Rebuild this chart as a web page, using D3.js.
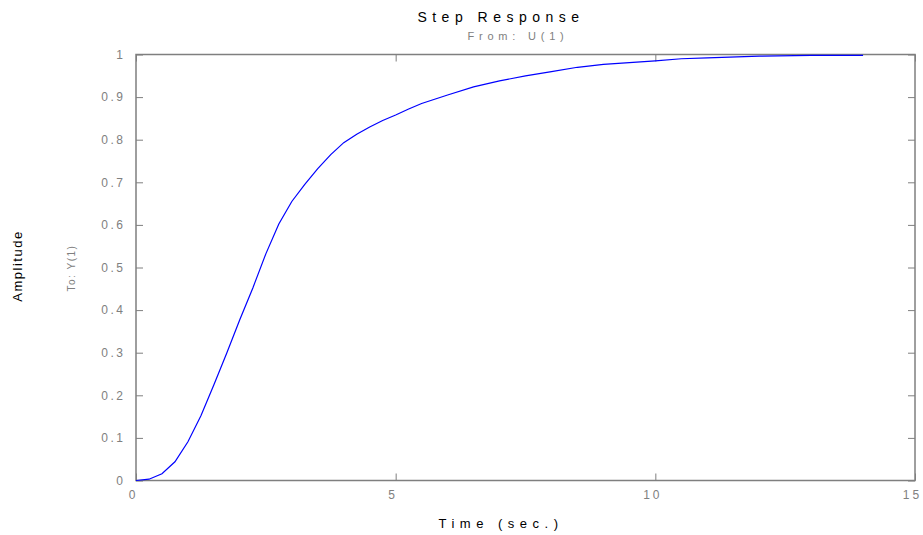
<!DOCTYPE html>
<html>
  <head>
    <title>Step Response</title>
    <style>
      body { margin: 0; background: #fff; }
      svg text { font-family: "Liberation Sans", Arial, sans-serif; }
    </style>
  </head>
  <body>
    <div id="chart"></div>

    <script src="https://d3js.org/d3.v7.min.js"></script>
    <script>
      // step response samples
      const time = [0, 0.25, 0.5, 0.75, 1.0, 1.25, 1.5, 1.75, 2.0, 2.25, 2.5, 2.75, 3.0, 3.25, 3.5, 3.75,
        4.0, 4.25, 4.5, 4.75, 5.0, 5.25, 5.5, 5.75, 6.0, 6.5, 7.0, 7.5, 8.0, 8.5, 9.0, 9.5, 10.0, 10.5,
        11.0, 12.0, 13.0, 14.0]
      const amplitude = [0, 0.003, 0.016, 0.044, 0.091, 0.152, 0.225, 0.300, 0.378, 0.452, 0.532, 0.602,
        0.655, 0.695, 0.732, 0.765, 0.793, 0.813, 0.830, 0.845, 0.858, 0.872, 0.885, 0.895, 0.905,
        0.924, 0.938, 0.950, 0.960, 0.970, 0.977, 0.981, 0.985, 0.990, 0.992, 0.996, 0.998, 0.998]
      const xTicks = [0, 5, 10, 15]
      const yTicks = [0, 0.1, 0.2, 0.3, 0.4, 0.5, 0.6, 0.7, 0.8, 0.9, 1]
      const yTickLabels = ["0", "0.1", "0.2", "0.3", "0.4", "0.5", "0.6", "0.7", "0.8", "0.9", "1"]

      const W = 923, H = 535
      const margin = { top: 54.5, right: 8, bottom: 54.5, left: 136 },
        width = W - margin.left - margin.right,
        height = H - margin.top - margin.bottom

      const svg = d3.select("#chart")
        .append("svg")
        .attr("width", W)
        .attr("height", H)

      const g = svg.append("g")
        .attr("transform", "translate(" + margin.left + "," + margin.top + ")")

      const x = d3.scaleLinear().domain([0, 15]).range([0, width])
      const y = d3.scaleLinear().domain([0, 1]).range([height, 0])

      const axisColor = "#7f7f7f"
      const labelColor = "#808080"
      const tickLen = 7

      // box
      g.append("rect")
        .attr("width", width)
        .attr("height", height)
        .attr("fill", "none")
        .attr("stroke", axisColor)
        .attr("stroke-width", 1.5)

      // inward ticks on all four sides
      const styleAxis = (sel, spacing) => {
        sel.select(".domain").remove()
        sel.selectAll(".tick line").attr("stroke", axisColor)
        sel.selectAll(".tick text")
          .attr("fill", labelColor)
          .style("font-size", "12px")
          .style("letter-spacing", spacing + "px")
      }

      g.append("g")
        .attr("transform", "translate(0," + height + ")")
        .call(d3.axisBottom(x).tickValues(xTicks).tickFormat(d3.format("d"))
          .tickSizeInner(-tickLen).tickSizeOuter(0).tickPadding(10))
        .call(styleAxis, 3)
        .selectAll(".tick text").attr("dx", -3)

      g.append("g")
        .call(d3.axisTop(x).tickValues(xTicks).tickFormat("")
          .tickSizeInner(-tickLen).tickSizeOuter(0))
        .call(styleAxis, 0)

      g.append("g")
        .call(d3.axisLeft(y).tickValues(yTicks).tickFormat((d, i) => yTickLabels[i])
          .tickSizeInner(-tickLen).tickSizeOuter(0).tickPadding(10.5))
        .call(styleAxis, 2.5)

      g.append("g")
        .attr("transform", "translate(" + width + ",0)")
        .call(d3.axisRight(y).tickValues(yTicks).tickFormat("")
          .tickSizeInner(-tickLen).tickSizeOuter(0))
        .call(styleAxis, 0)

      // response curve
      const line = d3.line()
        .x((d, i) => x(time[i]))
        .y(d => y(d))

      g.append("path")
        .attr("d", line(amplitude))
        .attr("fill", "none")
        .attr("stroke", "#0000ff")
        .attr("stroke-width", 1.2)

      // titles
      svg.append("text")
        .attr("x", 501)
        .attr("y", 22)
        .attr("text-anchor", "middle")
        .style("font-size", "14px")
        .style("letter-spacing", "5.5px")
        .text("Step Response")

      svg.append("text")
        .attr("x", 518)
        .attr("y", 40)
        .attr("text-anchor", "middle")
        .attr("fill", labelColor)
        .style("font-size", "11px")
        .style("letter-spacing", "4.8px")
        .text("From: U(1)")

      svg.append("text")
        .attr("x", 501)
        .attr("y", 528)
        .attr("text-anchor", "middle")
        .style("font-size", "13px")
        .style("letter-spacing", "5.5px")
        .text("Time (sec.)")

      svg.append("text")
        .attr("transform", "translate(22,266) rotate(-90)")
        .attr("text-anchor", "middle")
        .style("font-size", "13px")
        .style("letter-spacing", "1.5px")
        .text("Amplitude")

      svg.append("text")
        .attr("transform", "translate(75,268) rotate(-90)")
        .attr("text-anchor", "middle")
        .attr("fill", labelColor)
        .style("font-size", "10px")
        .style("letter-spacing", "1.5px")
        .text("To: Y(1)")
    </script>
  </body>
</html>
